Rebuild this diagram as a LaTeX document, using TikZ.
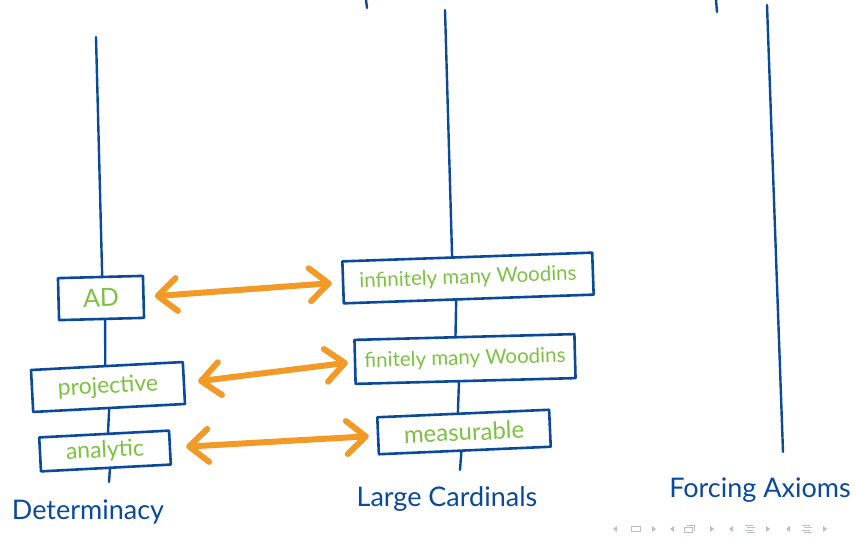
\documentclass[tikz,border=0pt]{standalone}
\usepackage{fontspec}
\setmainfont{Lato}
\usetikzlibrary{arrows.meta,calc}
\definecolor{inkblue}{HTML}{0B4A9A}
\definecolor{inkgreen}{HTML}{7CC242}
\definecolor{inkorange}{HTML}{F39A26}
\definecolor{navgray}{HTML}{B3C0D6}
\tikzset{
  box/.style={draw=inkblue, line width=2.6pt, fill=white, text=inkgreen,
    inner sep=0pt, line join=round},
  axis/.style={draw=inkblue, line width=2.4pt, line cap=round},
  equiv/.style={draw=inkorange, line width=6pt, line cap=round,
    {Straight Barb[length=19pt,width=33pt,line cap=round,line join=round]}-{Straight Barb[length=19pt,width=33pt,line cap=round,line join=round]}},
  heading/.style={text=inkblue, inner sep=0pt, font=\fontsize{27}{30}\selectfont},
  navmark/.style={fill=navgray, draw=none},
  navline/.style={draw=navgray, line width=1pt}
}
\begin{document}
\begin{tikzpicture}[x=1pt,y=-1pt]
\useasboundingbox (0,0) rectangle (857,538);

% Determinacy column
\node[box, minimum width=85, minimum height=42, rotate=1.5,
  font=\fontsize{25}{28}\selectfont] (ad) at (101,298) {AD};
\node[box, minimum width=152, minimum height=42, rotate=3,
  font=\fontsize{23}{26}\selectfont] (proj) at (108,387) {projective};
\node[box, minimum width=130, minimum height=34, rotate=3,
  font=\fontsize{23}{26}\selectfont] (ana) at (105,451) {analytic};

% Large cardinal column
\node[box, minimum width=250, minimum height=42, rotate=2,
  font=\fontsize{20.5}{24}\selectfont] (inf) at (468,278) {infinitely many Woodins};
\node[box, minimum width=220, minimum height=44, rotate=1.5,
  font=\fontsize{20.5}{24}\selectfont] (fin) at (465,359) {finitely many Woodins};
\node[box, minimum width=172, minimum height=37, rotate=2.5,
  font=\fontsize{24}{28}\selectfont] (meas) at (464,432) {measurable};

% column ends
\coordinate (dtop) at (96,37);
\coordinate (dbot) at (109,482);
\coordinate (ltop) at (445,10);
\coordinate (lbot) at (460,470);
\coordinate (ftop) at (767,5);
\coordinate (fbot) at (783,452);
\coordinate (sa) at (366,0);
\coordinate (sb) at (367,8);
\coordinate (sc) at (716,0);
\coordinate (sd) at (717,12);

% axes, meeting each box a little off its centre
\draw[axis] (dtop) -- ($(ad.north west)!0.52!(ad.north east)$);
\draw[axis] ($(ad.south west)!0.54!(ad.south east)$) -- ($(proj.north west)!0.49!(proj.north east)$);
\draw[axis] ($(proj.south west)!0.50!(proj.south east)$) -- ($(ana.north west)!0.53!(ana.north east)$);
\draw[axis] ($(ana.south west)!0.53!(ana.south east)$) -- (dbot);
\draw[axis] (ltop) -- ($(inf.north west)!0.44!(inf.north east)$);
\draw[axis] ($(inf.south west)!0.45!(inf.south east)$) -- ($(fin.north west)!0.46!(fin.north east)$);
\draw[axis] ($(fin.south west)!0.47!(fin.south east)$) -- ($(meas.north west)!0.47!(meas.north east)$);
\draw[axis] ($(meas.south west)!0.48!(meas.south east)$) -- (lbot);
\draw[axis] (ftop) -- (fbot);
\draw[axis] (sa) -- (sb);
\draw[axis] (sc) -- (sd);

% equivalences
\draw[equiv, shorten <=10pt, shorten >=10pt] (ad.east) -- (inf.west);
\draw[equiv, shorten <=13pt, shorten >=6pt] (proj.east) -- (fin.west);
\draw[equiv, shorten <=15pt, shorten >=8pt] (ana.east) -- (meas.west);

% column headings
\node[heading] (det) at (88,512) {Determinacy};
\node[heading] (lc) at (447,499) {Large Cardinals};
\node[heading] (fa) at (760,490) {Forcing Axioms};

% navigation symbols
\fill[navmark] (617,526) -- (617,532) -- (613,529) -- cycle;
\draw[navline] (631,526.5) rectangle (640,531.5);
\fill[navmark] (652,526) -- (652,532) -- (656,529) -- cycle;
\fill[navmark] (674,526) -- (674,532) -- (670,529) -- cycle;
\draw[navline] (684.5,527) rectangle (692,532.5);
\draw[navline] (686.5,525) -- (694,525) -- (694,530.5);
\fill[navmark] (710,526) -- (710,532) -- (714,529) -- cycle;
\fill[navmark] (733,526) -- (733,532) -- (729,529) -- cycle;
\draw[navline] (745,525) -- (753,525) (747,527.6) -- (755,527.6) (745,530.2) -- (753,530.2) (747,532.8) -- (755,532.8);
\fill[navmark] (766,526) -- (766,532) -- (770,529) -- cycle;
\fill[navmark] (790,526) -- (790,532) -- (786,529) -- cycle;
\draw[navline] (802,525) -- (810,525) (804,527.6) -- (812,527.6) (802,530.2) -- (810,530.2) (804,532.8) -- (812,532.8);
\fill[navmark] (823,526) -- (823,532) -- (827,529) -- cycle;
\end{tikzpicture}
\end{document}
